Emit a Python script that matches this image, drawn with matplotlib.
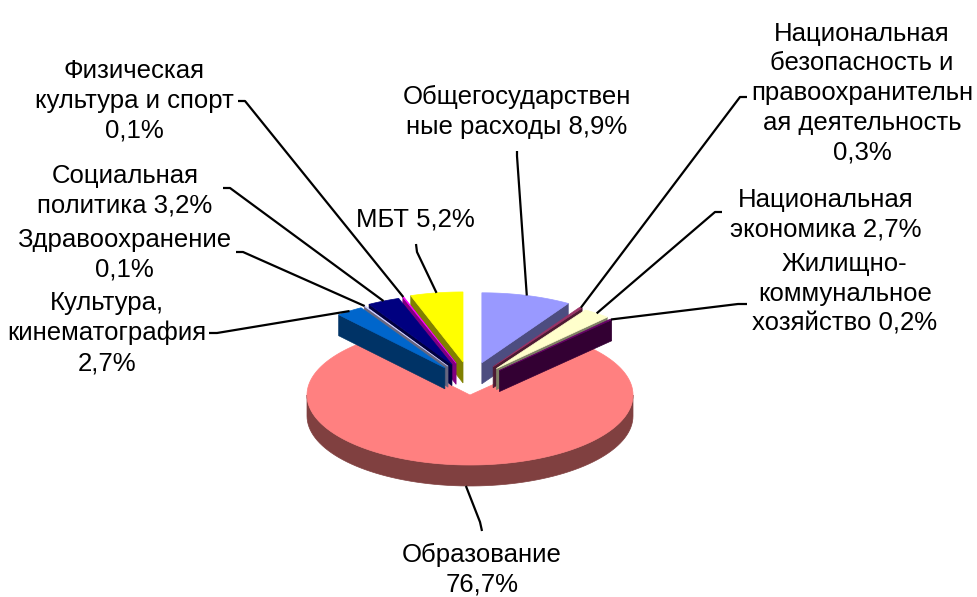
import numpy as np
import matplotlib.pyplot as plt
from matplotlib.patches import Polygon

plt.rcParams['font.family'] = ['Liberation Sans', 'DejaVu Sans']

# data, clockwise from 12 o'clock
names = ["Общегосударствен\nные расходы",
         "Национальная\nбезопасность и\nправоохранительн\nая деятельность",
         "Национальная\nэкономика",
         "Жилищно-\nкоммунальное\nхозяйство",
         "Образование",
         "Культура,\nкинематография",
         "Здравоохранение",
         "Социальная\nполитика",
         "Физическая\nкультура и спорт",
         "МБТ"]
shares = [8.9, 0.3, 2.7, 0.2, 76.7, 2.7, 0.1, 3.2, 0.1, 5.2]
value_sep = [" ", "\n", " ", " ", "\n", "\n", "\n", " ", "\n", " "]

colors = ['#9999FF', '#993366', '#FFFFCC', '#660066', '#FF8080',
          '#0066CC', '#CCCCFF', '#000080', '#FF00FF', '#FFFF00']
explode = [1, 1, 1, 1, 0, 1, 1, 1, 1, 1]

# layout (pixel coords of the figure)
label_xy = [(517, 112), (862, 93), (826, 215), (845, 294), (482, 570),
            (107, 333), (124, 255), (125, 191), (134, 101), (415, 220)]
elbow_xy = [(517, 156), (740, 97), (715, 212), (738, 304), (480, 522),
            (217, 333), (243, 252), (230, 188), (245, 101), (417, 252)]
tick_xy = [(517, 151), (747, 97), (722, 212), (747, 304), (482, 531),
           (209, 333), (236, 252), (223, 188), (238, 101), (416, 244)]

CX, CY = 470, 395
RX, RY = 163, 70
DEPTH = 21
EX, EY = 43, 33.5

fig = plt.figure(figsize=(9.77, 5.97), dpi=100)
ax = fig.add_axes([0, 0, 1, 1])
ax.set_xlim(0, 977)
ax.set_ylim(597, 0)
ax.axis('off')


def darker(c, f=0.5):
    c = c.lstrip('#')
    return tuple(int(c[i:i + 2], 16) / 255 * f for i in (0, 2, 4))


def pt(t, ox, oy, z=0.0):
    r = np.radians(t)
    return (CX + ox + RX * np.cos(r), CY + oy - RY * np.sin(r) + z)


total = sum(shares)
cum = np.concatenate([[0], np.cumsum(shares)]) / total * 360
slices = []
for i in range(len(shares)):
    t_hi = 90 - cum[i]
    t_lo = 90 - cum[i + 1]
    mid = (t_hi + t_lo) / 2
    ox = EX * np.cos(np.radians(mid)) * explode[i]
    oy = -EY * np.sin(np.radians(mid)) * explode[i]
    slices.append((i, t_lo, t_hi, mid, ox, oy))


def draw_slice(i, t_lo, t_hi, mid, ox, oy):
    face = colors[i]
    side = darker(face)
    c = (CX + ox, CY + oy)
    cz = (CX + ox, CY + oy + DEPTH)
    # radial walls facing the viewer
    for t, n in ((t_lo, t_lo - 90), (t_hi, t_hi + 90)):
        if np.sin(np.radians(n)) < 0:
            p = pt(t, ox, oy)
            pz = pt(t, ox, oy, DEPTH)
            ax.add_patch(Polygon([c, p, pz, cz], closed=True, fc=side,
                                 ec=side, lw=0.5))
    # front part of the outer wall
    for k in range(-2, 2):
        a = max(t_lo, -180 + 360 * k)
        b = min(t_hi, 360 * k)
        if b > a:
            ts = np.linspace(a, b, 80)
            top = [pt(t, ox, oy) for t in ts]
            bot = [pt(t, ox, oy, DEPTH) for t in ts[::-1]]
            ax.add_patch(Polygon(top + bot, closed=True, fc=side, ec=side,
                                 lw=0.5))
    ts = np.linspace(t_lo, t_hi, max(4, int((t_hi - t_lo) * 2)))
    ax.add_patch(Polygon([c] + [pt(t, ox, oy) for t in ts], closed=True,
                         fc=face, ec=face, lw=0.5))


# main slice first, then the exploded ones from back to front
order = [s for s in slices if explode[s[0]] == 0]
order += sorted([s for s in slices if explode[s[0]] != 0],
                key=lambda s: -np.sin(np.radians(s[3])))
for s in order:
    draw_slice(*s)

# labels and leader lines
for i, t_lo, t_hi, mid, ox, oy in slices:
    z = DEPTH if explode[i] == 0 else 0
    p = pt(mid, ox, oy, z)
    ex, ey = elbow_xy[i]
    tx, ty = tick_xy[i]
    ax.plot([p[0], ex, tx], [p[1], ey, ty], color='black', lw=1.6,
            solid_capstyle='butt')
    txt = names[i] + value_sep[i] + f"{shares[i]:.1f}%".replace('.', ',')
    ax.text(label_xy[i][0], label_xy[i][1], txt, ha='center', va='center',
            fontsize=18.5, linespacing=1.3, multialignment='center')

fig.savefig('out.png', dpi=100)
